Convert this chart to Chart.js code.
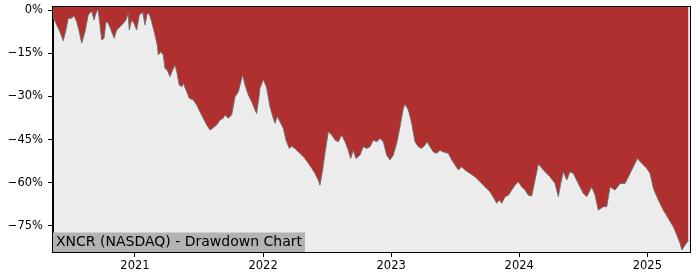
<!DOCTYPE html>
<html>
<head>
<meta charset="utf-8">
<script src="https://cdn.jsdelivr.net/npm/chart.js@4"></script>
<style>
  html, body { margin: 0; padding: 0; background: #ffffff; }
  #wrap { width: 700px; height: 280px; }
</style>
</head>
<body>
<div id="wrap"><canvas id="c" width="700" height="280"></canvas></div>
<script>
// Decimal-year positions of the drawdown samples
const dates = [
  2020.360, 2020.368, 2020.389, 2020.414, 2020.440, 2020.461, 2020.479, 2020.506, 2020.524, 2020.545,
  2020.565, 2020.584, 2020.610, 2020.635, 2020.662, 2020.680, 2020.701, 2020.713, 2020.727, 2020.740,
  2020.758, 2020.774, 2020.792, 2020.813, 2020.838, 2020.857, 2020.883, 2020.909, 2020.930, 2020.948,
  2020.955, 2020.974, 2020.992, 2021.013, 2021.034, 2021.060, 2021.078, 2021.096, 2021.112, 2021.130,
  2021.156, 2021.174, 2021.182, 2021.201, 2021.221, 2021.234, 2021.252, 2021.273, 2021.294, 2021.312,
  2021.326, 2021.346, 2021.365, 2021.377, 2021.404, 2021.424, 2021.455, 2021.482, 2021.507, 2021.533,
  2021.560, 2021.586, 2021.611, 2021.638, 2021.664, 2021.689, 2021.703, 2021.728, 2021.755, 2021.781,
  2021.807, 2021.820, 2021.841, 2021.859, 2021.885, 2021.911, 2021.937, 2021.950, 2021.963, 2021.976,
  2022.002, 2022.028, 2022.054, 2022.080, 2022.093, 2022.111, 2022.138, 2022.158, 2022.179, 2022.205,
  2022.223, 2022.249, 2022.275, 2022.302, 2022.327, 2022.353, 2022.380, 2022.405, 2022.431, 2022.444,
  2022.465, 2022.483, 2022.509, 2022.536, 2022.562, 2022.587, 2022.614, 2022.640, 2022.665, 2022.684,
  2022.704, 2022.725, 2022.757, 2022.782, 2022.809, 2022.835, 2022.861, 2022.887, 2022.913, 2022.939,
  2022.965, 2022.991, 2023.017, 2023.043, 2023.069, 2023.095, 2023.108, 2023.134, 2023.160, 2023.186,
  2023.212, 2023.238, 2023.264, 2023.282, 2023.303, 2023.329, 2023.356, 2023.381, 2023.407, 2023.446,
  2023.473, 2023.499, 2023.524, 2023.551, 2023.576, 2023.616, 2023.655, 2023.694, 2023.733, 2023.772,
  2023.803, 2023.824, 2023.845, 2023.863, 2023.889, 2023.915, 2023.941, 2023.967, 2023.993, 2024.019,
  2024.045, 2024.071, 2024.097, 2024.123, 2024.149, 2024.188, 2024.240, 2024.279, 2024.305, 2024.324,
  2024.344, 2024.371, 2024.396, 2024.422, 2024.461, 2024.500, 2024.527, 2024.566, 2024.592, 2024.617,
  2024.656, 2024.683, 2024.709, 2024.748, 2024.787, 2024.826, 2024.865, 2024.891, 2024.922, 2024.956,
  2024.995, 2025.021, 2025.047, 2025.086, 2025.125, 2025.164, 2025.203, 2025.230, 2025.256, 2025.269,
  2025.295, 2025.321
];
// Drawdown in percent
const drawdown = [
  -2.6, -3.0, -5.1, -7.4, -10.6, -6.8, -2.7, -2.7, -1.8, -3.9,
  -7.4, -11.4, -7.4, -1.6, -0.2, -3.3, -0.2, 0.0, -5.1, -10.3,
  -9.7, -3.9, -4.5, -6.8, -9.7, -6.8, -5.7, -4.5, -3.3, -1.0,
  -6.8, -3.3, -4.5, -6.8, -1.6, -0.6, -5.1, -1.0, -1.3, -3.9,
  -8.5, -12.0, -15.5, -14.4, -15.5, -20.2, -20.8, -23.1, -20.8, -19.0,
  -21.3, -26.0, -26.6, -25.4, -28.3, -30.6, -31.2, -33.0, -35.3, -37.6,
  -39.9, -41.7, -40.9, -39.9, -38.2, -37.6, -36.4, -37.6, -36.4, -30.1,
  -28.3, -26.0, -22.5, -26.0, -29.5, -31.8, -34.7, -35.9, -31.8, -27.1,
  -24.0, -27.0, -33.6, -37.6, -39.3, -37.0, -39.3, -41.1, -45.2, -48.1,
  -47.3, -48.1, -49.3, -50.4, -51.6, -53.3, -55.0, -56.8, -59.1, -60.9,
  -55.6, -49.8, -42.3, -43.4, -45.2, -45.8, -43.4, -45.8, -48.7, -51.6,
  -48.7, -51.6, -50.4, -47.5, -48.1, -47.5, -45.2, -45.8, -44.6, -45.8,
  -50.4, -52.1, -50.4, -46.3, -40.5, -34.1, -32.6, -34.7, -39.3, -45.8,
  -47.5, -48.1, -46.9, -45.8, -47.5, -49.3, -49.8, -48.7, -49.3, -49.8,
  -52.1, -53.9, -55.6, -54.5, -55.6, -56.8, -58.0, -59.7, -61.5, -63.2,
  -65.5, -67.2, -66.1, -67.2, -64.9, -64.4, -62.6, -60.9, -59.7, -61.5,
  -62.6, -64.4, -64.7, -59.1, -53.5, -55.6, -58.0, -60.3, -64.9, -60.3,
  -56.2, -59.1, -56.2, -56.8, -60.3, -63.8, -64.9, -61.5, -64.4, -69.6,
  -68.4, -68.4, -61.5, -62.6, -60.3, -60.3, -56.8, -54.5, -51.6, -53.3,
  -55.0, -56.8, -62.0, -66.1, -69.6, -72.5, -75.4, -78.3, -81.2, -83.5,
  -81.8, -80.1
];
const yTicks = [0, -15, -30, -45, -60, -75];
const xTicks = [2021, 2022, 2023, 2024, 2025];
const chartLabel = 'XNCR (NASDAQ) - Drawdown Chart';

const FONT = 'DejaVu Sans';
const points = dates.map((d, i) => ({ x: d, y: drawdown[i] }));

const framePlugin = {
  id: 'frame',
  beforeDraw(chart) {
    const { ctx, chartArea: a } = chart;
    ctx.save();
    ctx.fillStyle = '#ececec';
    ctx.fillRect(a.left, a.top, a.right - a.left, a.bottom - a.top);
    ctx.restore();
  },
  afterDraw(chart) {
    const { ctx, chartArea: a } = chart;
    ctx.save();
    // label box
    ctx.font = '14px "' + FONT + '"';
    const w = ctx.measureText(chartLabel).width;
    ctx.fillStyle = '#b3b3b3';
    ctx.fillRect(a.left, a.bottom - 19.5, w + 6, 19.5);
    ctx.fillStyle = '#000000';
    ctx.textBaseline = 'middle';
    ctx.textAlign = 'left';
    ctx.fillText(chartLabel, a.left + 3, a.bottom - 10);
    // spines
    ctx.strokeStyle = '#000000';
    ctx.lineWidth = 1;
    ctx.strokeRect(Math.round(a.left) - 0.5, Math.round(a.top) - 0.5,
      Math.round(a.right - a.left) + 1, Math.round(a.bottom - a.top) + 1);
    ctx.restore();
  }
};

new Chart(document.getElementById('c'), {
  type: 'line',
  data: {
    datasets: [{
      data: points,
      borderColor: 'rgba(110,110,110,0.9)',
      borderWidth: 1,
      backgroundColor: '#b03030',
      fill: 'end',
      pointRadius: 0,
      tension: 0
    }]
  },
  options: {
    responsive: false,
    animation: false,
    layout: { padding: { left: 0, right: 10, top: 7, bottom: 0 } },
    plugins: { legend: { display: false }, tooltip: { enabled: false } },
    scales: {
      x: {
        type: 'linear',
        min: 2020.36,
        max: 2025.333,
        afterBuildTicks(scale) { scale.ticks = xTicks.map(v => ({ value: v })); },
        afterFit(scale) { scale.height = 28; scale.paddingLeft = 0; scale.paddingRight = 0; },
        grid: { display: true, drawOnChartArea: false, drawTicks: true, tickLength: 5, color: '#000000' },
        border: { display: true, color: '#000000' },
        ticks: {
          color: '#000000', font: { family: FONT, size: 11.5 }, padding: 2,
          maxRotation: 0, autoSkip: false,
          callback: v => String(v)
        }
      },
      y: {
        type: 'linear',
        min: -84.2,
        max: 1.2,
        afterBuildTicks(scale) { scale.ticks = yTicks.map(v => ({ value: v })); },
        afterFit(scale) { scale.width = 53; scale.paddingTop = 0; scale.paddingBottom = 0; },
        grid: { display: true, drawOnChartArea: false, drawTicks: true, tickLength: 5, color: '#000000' },
        border: { display: true, color: '#000000' },
        ticks: {
          color: '#000000', font: { family: FONT, size: 11.5 }, padding: 5,
          autoSkip: false,
          callback: v => (v < 0 ? '\u2212' + Math.abs(v) : String(v)) + '%'
        }
      }
    }
  },
  plugins: [framePlugin]
});
</script>
</body>
</html>
